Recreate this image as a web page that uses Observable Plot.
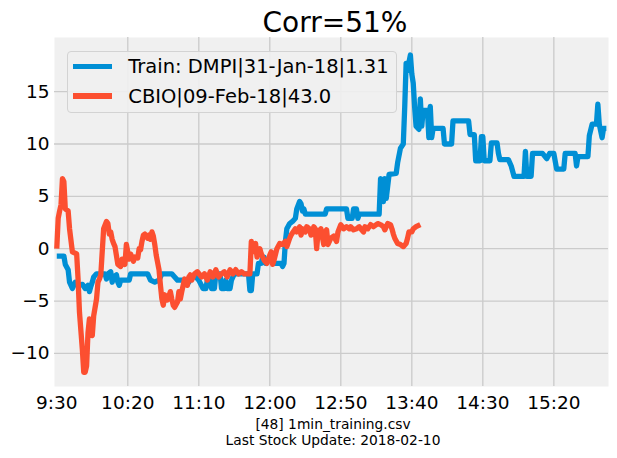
<!DOCTYPE html>
<html>
<head>
<meta charset="utf-8">
<script src="https://cdn.jsdelivr.net/npm/d3@7"></script>
<script src="https://cdn.jsdelivr.net/npm/@observablehq/plot@0.6"></script>
<style>
  body { margin: 0; background: #ffffff; font-family: "DejaVu Sans", sans-serif; color: #000; }
  #wrap { position: relative; width: 617px; height: 458px; overflow: hidden; background: #fff; }
  #title { position: absolute; left: 0; top: 9px; width: 670px; text-align: center; font-size: 28px; line-height: 28px; white-space: nowrap; }
  #chart { position: absolute; left: 0; top: 37px; }
  #legend { position: absolute; left: 66.7px; top: 50.7px; width: 330.3px; height: 62.3px; box-sizing: border-box;
            background: rgba(240,240,240,0.9); border: 1px solid #d3d3d3; border-radius: 4px; }
  .sw { position: absolute; left: 5px; width: 39.3px; height: 5.3px; }
  .lt { position: absolute; left: 60.6px; font-size: 19.5px; line-height: 19px; white-space: nowrap; }
  #footer { position: absolute; left: 0; top: 417px; width: 666px; text-align: center; font-size: 13.8px; line-height: 15.5px; white-space: nowrap; }
</style>
</head>
<body>
<div id="wrap">
  <div id="title"></div>
  <div id="chart"></div>
  <div id="legend"></div>
  <div id="footer"></div>
</div>
<script>
// ---- texts ----
const titleText = "Corr=51%";
const seriesNames = ["Train: DMPI|31-Jan-18|1.31", "CBIO|09-Feb-18|43.0"];
const seriesColors = ["#008fd5", "#fc4f30"];
const footerLines = ["[48] 1min_training.csv", "Last Stock Update: 2018-02-10"];

// ---- tick labels (minutes after 9:30) ----
const xTickValues = [0, 50, 100, 150, 200, 250, 300, 350];
const xTickLabels = ["9:30", "10:20", "11:10", "12:00", "12:50", "13:40", "14:30", "15:20"];
const yTickValues = [-10, -5, 0, 5, 10, 15];

// ---- Train series: DMPI (minutes after 9:30, value) ----
const trainMinutes = [0,5,6,8,9,11,13,15,18,20,22,23,24,25,26,28,34,35,36,38,39,40,42,43,44,45,51,52,64,65,66,69,72,74,81,83,85,92,93,94,98,100,103,105,106,108,109,111,112,115,116,118,119,120,122,123,125,135,136,137,138,141,142,144,145,146,147,149,152,153,158,159,160,161,162,164,166,168,169,171,172,173,174,175,189,190,204,205,208,209,211,212,213,227,228,229,230,231,232,234,239,240,242,244,245,246,247,248,249,250,251,252,253,255,256,257,258,261,262,263,264,265,272,273,278,279,290,291,294,295,298,299,300,301,305,306,310,311,312,318,320,322,329,330,331,334,335,342,345,347,350,352,357,358,365,366,367,374,375,377,380,381,382,384,385,387];
const trainValues = [-0.7,-0.7,-1.5,-2.0,-3.2,-3.8,-3.2,-3.5,-3.4,-3.8,-3.5,-4.1,-3.6,-3.2,-2.7,-2.4,-2.4,-2.9,-2.4,-2.2,-3.2,-2.7,-2.5,-3.2,-3.5,-3.0,-3.0,-2.4,-2.4,-2.7,-3.0,-3.2,-3.0,-2.4,-2.4,-2.7,-3.0,-3.0,-3.2,-2.7,-2.7,-3.0,-3.8,-3.8,-3.0,-3.0,-3.8,-3.8,-2.4,-2.4,-3.8,-3.8,-3.0,-3.8,-3.8,-3.0,-2.4,-2.4,-4.0,-4.0,-2.4,-2.4,-1.4,-1.4,-0.8,-0.8,-1.4,-1.1,-1.1,-1.4,-1.4,-1.7,-1.4,0.7,1.9,2.4,2.6,2.9,3.8,4.5,4.3,3.6,3.8,3.3,3.3,3.8,3.8,2.9,2.9,3.8,3.8,2.9,3.3,3.3,6.7,5.5,4.5,6.7,4.8,7.1,7.2,8.2,9.6,10.0,13.5,17.7,17.0,17.8,18.5,16.7,15.8,13.5,11.7,11.4,14.3,11.7,13.2,13.2,10.6,13.6,10.6,11.5,11.5,10.0,10.0,12.2,12.2,10.9,10.9,8.4,8.4,10.7,10.7,8.4,8.4,10.1,10.1,9.1,8.5,8.5,7.9,6.9,6.9,9.3,6.9,6.9,9.1,9.1,8.6,9.1,9.1,7.6,7.6,9.1,9.1,7.9,8.8,8.8,10.8,11.9,11.9,13.8,11.9,10.6,11.5,11.5];

// ---- Test series: CBIO ----
const testMinutes = [0,1,2,3,4,5,6,8,9,11,14,15,16,18,19,20,21,22,23,24,25,26,28,29,30,31,32,33,35,36,37,38,39,40,41,43,45,46,48,49,51,52,54,55,57,58,59,60,61,62,64,65,66,67,68,69,70,72,73,74,75,76,78,80,81,82,83,85,86,87,88,89,90,92,93,94,95,96,97,99,102,104,106,108,110,112,114,116,118,120,122,124,126,128,130,132,136,137,138,140,141,143,144,146,148,150,151,152,153,155,157,159,161,162,164,165,168,169,171,172,173,175,176,178,179,180,181,182,183,184,186,188,189,190,191,193,195,197,198,200,202,204,206,207,209,211,213,214,216,217,219,221,223,226,228,230,231,233,235,236,237,238,240,242,244,246,247,248,250,251,253,256];
const testValues = [0.0,2.9,3.6,4.2,6.7,6.4,3.8,3.6,1.9,-0.3,-0.5,-2.9,-6.1,-9.6,-11.8,-11.8,-11.2,-8.0,-6.7,-8.0,-8.3,-6.4,-4.8,-3.2,-2.9,-2.5,-0.3,1.9,2.6,2.4,1.4,1.6,0.9,0.5,0.2,-1.5,-1.7,-1.0,-1.5,0.4,-1.0,-0.5,-1.2,-0.8,-0.9,0.0,-0.1,0.7,1.3,1.4,1.0,1.3,0.9,1.6,1.2,0.4,-0.6,-2.0,-3.5,-4.8,-5.4,-4.4,-4.9,-4.1,-4.8,-5.4,-5.6,-5.1,-4.1,-4.8,-4.1,-3.5,-2.9,-3.5,-2.7,-2.5,-3.0,-2.7,-2.4,-2.2,-2.7,-2.4,-3.0,-2.2,-2.7,-2.0,-2.7,-2.4,-2.2,-2.7,-2.0,-2.4,-2.0,-2.4,-2.2,-2.4,-2.4,0.7,-0.3,0.5,-0.8,0.0,-0.5,-1.1,-1.4,-0.6,-0.3,-1.5,-1.1,0.0,0.5,0.4,0.7,0.2,1.0,1.3,1.9,1.6,2.1,1.3,1.9,1.6,2.1,1.9,1.3,1.6,2.1,1.9,0.0,1.6,1.9,0.4,1.6,1.8,0.4,1.0,1.2,0.7,1.6,2.3,1.9,2.1,1.9,2.1,1.8,1.9,2.1,1.9,1.6,2.1,1.9,2.3,2.1,2.4,2.3,2.1,1.8,2.4,2.3,1.9,1.4,1.0,0.5,0.4,0.2,0.5,1.0,1.6,1.6,1.9,2.1,2.3,2.3];

const train = trainMinutes.map((t, i) => ({t, v: trainValues[i]}));
const test = testMinutes.map((t, i) => ({t, v: testValues[i]}));
const xLabelOf = new Map(xTickValues.map((v, i) => [v, xTickLabels[i]]));
const fmtY = d => d < 0 ? "\u2212" + Math.abs(d) : String(d);
const xGridValues = xTickValues.filter(d => d > 0);

const chart = Plot.plot({
  width: 617,
  height: 379,
  marginTop: 0,
  marginBottom: 30,
  marginLeft: 54,
  marginRight: 9,
  style: {fontFamily: "DejaVu Sans", fontSize: "18.5px", color: "#000", background: "transparent", overflow: "visible"},
  x: {domain: [-1.6, 388.5], label: null},
  y: {domain: [-13.16, 20.17], label: null},
  marks: [
    Plot.frame({fill: "#f0f0f0", stroke: "none", strokeWidth: 0}),
    Plot.gridX(xGridValues, {stroke: "#cbcbcb", strokeOpacity: 1, strokeWidth: 1.33}),
    Plot.gridY(yTickValues, {stroke: "#cbcbcb", strokeOpacity: 1, strokeWidth: 1.33}),
    Plot.axisX(xTickValues, {tickSize: 0, tickPadding: 9, fontSize: 18.5, tickFormat: d => xLabelOf.get(d), label: null}),
    Plot.axisY(yTickValues, {tickSize: 0, tickPadding: 5, fontSize: 18.5, tickFormat: fmtY, label: null}),
    Plot.line(train, {x: "t", y: "v", stroke: seriesColors[0], strokeWidth: 5.3, strokeLinejoin: "round", strokeLinecap: "butt"}),
    Plot.line(test, {x: "t", y: "v", stroke: seriesColors[1], strokeWidth: 5.3, strokeLinejoin: "round", strokeLinecap: "butt"})
  ]
});
document.getElementById("chart").appendChild(chart);

document.getElementById("title").textContent = titleText;

const legend = document.getElementById("legend");
seriesNames.forEach((name, i) => {
  const sw = document.createElement("div");
  sw.className = "sw";
  sw.style.top = (12.4 + i * 29.4) + "px";
  sw.style.background = seriesColors[i];
  legend.appendChild(sw);
  const lt = document.createElement("div");
  lt.className = "lt";
  lt.style.top = (5.5 + i * 29.4) + "px";
  lt.textContent = name;
  legend.appendChild(lt);
});

const footer = document.getElementById("footer");
footerLines.forEach(line => {
  const d = document.createElement("div");
  d.textContent = line;
  footer.appendChild(d);
});
</script>
</body>
</html>
